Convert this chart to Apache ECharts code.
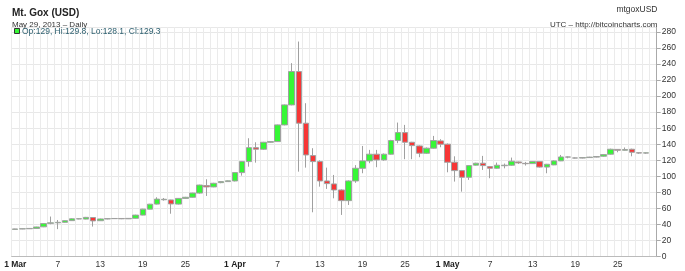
<!DOCTYPE html>
<html>
<head>
<meta charset="utf-8">
<script src="https://cdn.jsdelivr.net/npm/echarts@6/dist/echarts.min.js"></script>
<style>
html,body{margin:0;padding:0;background:#fff;}
#chart{width:685px;height:271px;}
</style>
</head>
<body>
<div id="chart"></div>
<script>
const categories = [
 '1 Mar','2 Mar','3 Mar','4 Mar','5 Mar','6 Mar','7 Mar','8 Mar','9 Mar','10 Mar',
 '11 Mar','12 Mar','13 Mar','14 Mar','15 Mar','16 Mar','17 Mar','18 Mar','19 Mar','20 Mar',
 '21 Mar','22 Mar','23 Mar','24 Mar','25 Mar','26 Mar','27 Mar','28 Mar','29 Mar','30 Mar','31 Mar',
 '1 Apr','2 Apr','3 Apr','4 Apr','5 Apr','6 Apr','7 Apr','8 Apr','9 Apr','10 Apr',
 '11 Apr','12 Apr','13 Apr','14 Apr','15 Apr','16 Apr','17 Apr','18 Apr','19 Apr','20 Apr',
 '21 Apr','22 Apr','23 Apr','24 Apr','25 Apr','26 Apr','27 Apr','28 Apr','29 Apr','30 Apr',
 '1 May','2 May','3 May','4 May','5 May','6 May','7 May','8 May','9 May','10 May',
 '11 May','12 May','13 May','14 May','15 May','16 May','17 May','18 May','19 May','20 May',
 '21 May','22 May','23 May','24 May','25 May','26 May','27 May','28 May','29 May'
];
const opens = [
 34.0,34.6,34.8,35.2,37.2,41.5,42.2,42.8,44.9,47.0,
 46.8,48.8,44.8,47.0,47.4,47.6,47.2,47.8,51.8,59.2,
 65.5,70.9,70.7,65.5,72.6,74.0,79.2,88.5,86.9,92.2,93.5,
 94.3,104.7,118.4,135.8,133.8,142.5,143.3,164.1,189.0,230.5,
 166.2,125.9,118.4,94.3,90.6,83.1,69.8,94.3,110.1,119.3,
 127.6,120.5,127.6,144.6,154.5,142.5,137.9,128.8,135.1,144.2,
 140.1,117.6,107.2,98.9,114.0,116.4,112.2,110.1,113.3,113.9,
 118.0,116.2,115.9,118.4,111.6,114.3,119.3,124.2,123.0,122.8,
 123.4,124.0,125.1,127.6,133.6,132.5,133.8,129.5,129.0
];
const closes = [
 34.6,34.8,35.2,37.0,41.2,42.2,42.8,44.9,47.2,47.3,
 49.0,44.6,47.0,47.4,47.6,47.2,47.7,51.8,59.2,65.4,
 71.7,71.5,65.7,72.6,74.0,79.2,89.2,86.9,91.4,93.5,94.5,
 104.7,118.4,135.8,133.8,142.5,143.3,164.1,189.0,230.5,166.2,
 126.7,118.4,94.3,91.0,83.1,69.8,94.3,110.1,119.3,127.6,
 120.5,127.6,144.6,154.5,142.5,138.3,128.8,135.1,144.6,140.1,
 117.6,107.2,98.9,113.4,116.4,113.4,110.1,113.9,113.9,118.8,
 116.8,115.8,118.4,111.6,115.1,119.3,124.2,124.0,122.8,123.4,
 124.0,124.7,127.1,133.8,132.5,133.5,130.0,129.0,129.3
];
const lows = [
 33.8,34.3,34.5,34.9,36.8,40.4,34.3,42.4,44.5,46.6,
 46.5,37.5,44.5,46.6,47.0,46.8,46.9,47.5,51.5,59.0,
 65.0,69.8,53.5,65.0,72.0,73.5,78.5,75.6,86.5,91.5,93.0,
 93.8,100.9,112.1,117.1,133.0,142.0,143.0,163.5,188.5,105.9,
 110.9,55.3,87.2,84.4,72.7,52.0,64.4,92.0,103.9,116.4,
 111.4,119.5,127.0,141.3,121.4,121.4,123.9,128.0,134.5,136.3,
 105.1,93.5,81.0,95.6,113.5,108.0,97.7,109.5,110.0,113.0,
 115.5,113.5,115.5,111.0,103.9,114.0,119.0,122.5,122.3,122.4,
 123.0,123.6,124.5,127.0,130.0,132.0,125.0,128.0,128.1
];
const highs = [
 34.9,35.0,35.5,37.3,41.6,50.0,45.7,45.2,47.8,47.9,
 49.5,49.3,47.4,47.8,48.0,47.9,48.0,52.2,59.6,65.8,
 74.0,73.1,71.0,73.0,74.5,79.6,89.6,96.4,92.0,94.0,95.0,
 105.0,118.8,147.5,142.5,143.0,144.0,164.5,189.5,241.0,267.9,
 191.1,135.1,120.0,110.9,101.8,84.0,95.0,114.0,137.9,133.0,
 133.0,128.5,145.5,167.0,164.1,143.0,138.5,136.0,150.4,146.3,
 141.0,125.0,108.0,114.0,117.0,125.5,113.0,117.2,116.0,123.4,
 118.5,118.0,119.0,119.0,115.5,120.0,126.7,124.8,123.6,123.8,
 124.4,125.1,127.5,134.5,134.0,136.0,134.5,130.0,129.8
];
const tickDays = [1, 7, 13, 19, 25];
const yTicks = [0, 20, 40, 60, 80, 100, 120, 140, 160, 180, 200, 220, 240, 260, 280];

const ohlc = opens.map((o, i) => [o, closes[i], lows[i], highs[i]]);
const axisCats = categories.concat(['']);

const chart = echarts.init(document.getElementById('chart'), null, {renderer: 'canvas'});
const FONT = '"Liberation Sans", Arial, sans-serif';
chart.setOption({
  animation: false,
  backgroundColor: '#ffffff',
  grid: {left: 11.7, right: 28.3, top: 27, bottom: 14.3, containLabel: false},
  xAxis: {
    type: 'category',
    data: axisCats,
    boundaryGap: true,
    axisLine: {show: true, lineStyle: {color: '#bbbbbb', width: 1}},
    axisTick: {show: false},
    splitLine: {show: true, interval: 0, lineStyle: {color: '#ebebeb', width: 1}},
    axisLabel: {
      interval: function (idx, val) {
        if (!val) return false;
        const d = parseInt(val, 10);
        return tickDays.indexOf(d) >= 0;
      },
      margin: 3,
      fontFamily: FONT,
      fontSize: 8.5,
      color: '#333',
      formatter: function (val) {
        const d = parseInt(val, 10);
        if (d === 1) return '{b|' + val + '}';
        return String(d);
      },
      rich: {b: {fontWeight: 'bold', fontFamily: FONT, fontSize: 8.5, color: '#222'}}
    }
  },
  yAxis: {
    type: 'value',
    position: 'right',
    min: 0,
    max: 286,
    interval: 20,
    axisLine: {show: true, lineStyle: {color: '#aaaaaa'}},
    axisTick: {show: true, length: 4, lineStyle: {color: '#aaaaaa'}},
    splitLine: {show: true, lineStyle: {color: '#e8e8e8'}},
    axisLabel: {
      showMaxLabel: false,
      margin: 5,
      fontFamily: FONT,
      fontSize: 8.5,
      color: '#333',
      formatter: function (v) { return yTicks.indexOf(v) >= 0 ? String(v) : ''; }
    }
  },
  series: [{
    type: 'candlestick',
    data: ohlc,
    barWidth: 6,
    itemStyle: {
      color: '#36f736',
      color0: '#f73636',
      borderColor: '#a0a0a0',
      borderColor0: '#a0a0a0',
      borderColorDoji: '#a0a0a0',
      borderWidth: 1
    }
  }],
  graphic: [
    {type: 'text', z: 100, x: 12, y: 13, style: {text: 'Mt. Gox (USD)', font: 'bold 10px ' + FONT, fill: '#222', verticalAlign: 'middle'}},
    {type: 'text', z: 100, x: 12, y: 24.5, style: {text: 'May 29, 2013 \u2013 Daily', font: '8px ' + FONT, fill: '#333', verticalAlign: 'middle'}},
    {type: 'text', z: 100, x: 657.5, y: 10, style: {text: 'mtgoxUSD', font: '8.5px ' + FONT, fill: '#333', align: 'right', verticalAlign: 'middle'}},
    {type: 'text', z: 100, x: 657.5, y: 24.5, style: {text: 'UTC \u2013 http://bitcoincharts.com', font: '8px ' + FONT, fill: '#333', align: 'right', verticalAlign: 'middle'}},
    {type: 'rect', z: 100, shape: {x: 14.5, y: 28.5, width: 5, height: 5}, style: {fill: '#36f736', stroke: '#333', lineWidth: 1}},
    {type: 'text', z: 100, x: 22, y: 31.5, style: {text: 'Op:129, Hi:129.8, Lo:128.1, Cl:129.3', font: '8.5px ' + FONT, fill: '#2e6070', verticalAlign: 'middle'}}
  ]
});
</script>
</body>
</html>
